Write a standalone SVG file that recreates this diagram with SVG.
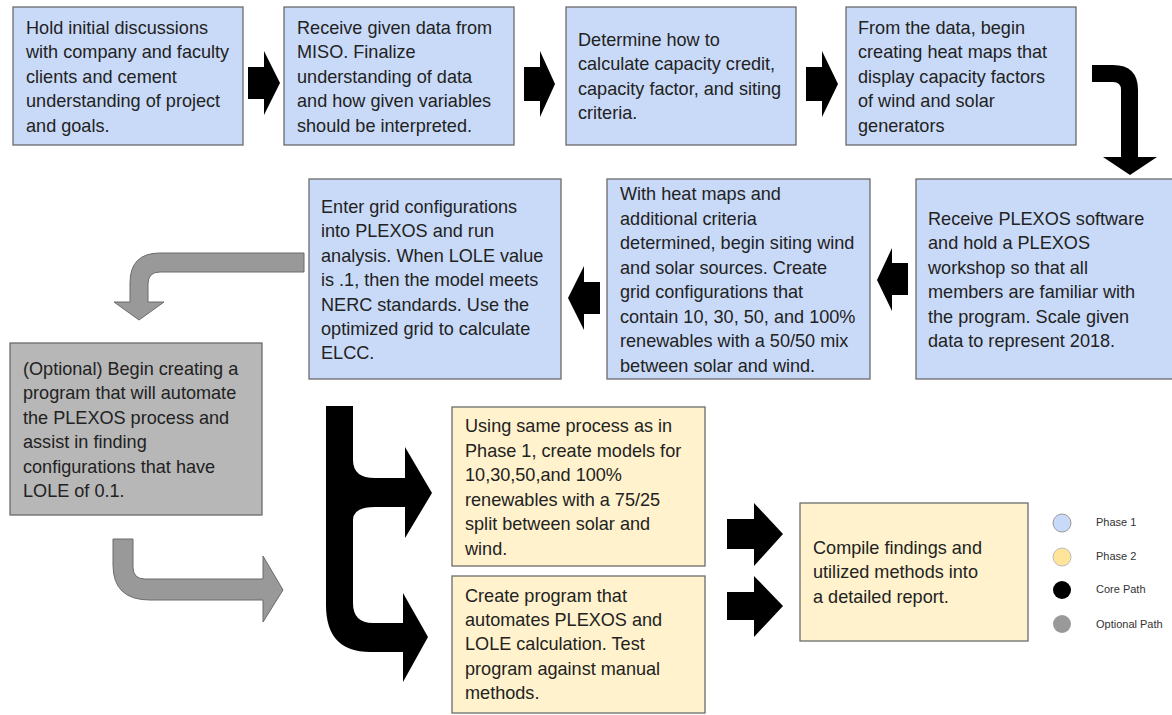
<svg xmlns="http://www.w3.org/2000/svg" width="1172" height="715" viewBox="0 0 1172 715">
<style>
.box{stroke:#6b6b6b;stroke-width:1.3}
.p1{fill:#c9daf8}
.p2{fill:#fff2cc}
.opt{fill:#b7b7b7}
.t{font-family:"Liberation Sans",Arial,sans-serif;font-size:18.1px;fill:#222}
.lg{font-family:"Liberation Sans",Arial,sans-serif;font-size:11px;fill:#333}
.core{fill:#000}
.gray{fill:#999;stroke:#6b6b6b;stroke-width:1}
</style>
<rect width="1172" height="715" fill="#fff"/>
<g id="connectors">
<polygon class="core" points="248,67 264,67 264,51 280,83 264,115 264,99 248,99"/>
<polygon class="core" points="524,67 540,67 540,51 555,84 540,117 540,101 524,101"/>
<polygon class="core" points="806,67 822,67 822,51 838,84 822,117 822,101 806,101"/>
<path class="core" d="M1092,65 L1113,65 Q1138,65 1138,90 L1138,157 L1157,157 L1130,175 L1103,157 L1121,157 L1121,90 Q1121,82 1113,82 L1092,82 Z"/>
<polygon class="core" points="908,263 892,263 892,248 877,280 892,311 892,295 908,295"/>
<polygon class="core" points="600,282 584,282 584,266 568,298 584,330 584,314 600,314"/>
<path class="gray" d="M304,253 L160,253 Q130,253 130,283 L130,302 L114,302 L139,320 L164,302 L148,302 L148,284 Q148,272 160,272 L304,272 Z"/>
<path class="gray" d="M113,539 L133,539 L133,567 Q133,579 145,579 L263,579 L263,556 L283,590 L263,622 L263,600 L150,600 Q113,600 113,565 Z"/>
<path class="core" d="M326,406 L353,406 L353,460 Q353,478 375,478 L405,478 L405,447 L432,493 L405,538 L405,507 L375,507 Q353,507 353,520 L353,603 Q353,623 373,623 L403,623 L403,593 L428,637 L403,682 L403,652 L370,652 Q326,652 326,605 Z"/>
<polygon class="core" points="727,519 754,519 754,503 783,534 754,566 754,549 727,549"/>
<polygon class="core" points="727,592 754,592 754,576 783,606 754,637 754,620 727,620"/>
</g>
<g id="n1">
<rect class="box p1" x="13" y="7" width="230" height="138"/>
<text class="t" x="26" y="34"><tspan x="26">Hold initial discussions</tspan><tspan x="26" dy="24.4">with company and faculty</tspan><tspan x="26" dy="24.4">clients and cement</tspan><tspan x="26" dy="24.4">understanding of project</tspan><tspan x="26" dy="24.4">and goals.</tspan></text>
</g>
<g id="n2">
<rect class="box p1" x="284" y="7" width="230" height="138"/>
<text class="t" x="297" y="34"><tspan x="297">Receive given data from</tspan><tspan x="297" dy="24.4">MISO. Finalize</tspan><tspan x="297" dy="24.4">understanding of data</tspan><tspan x="297" dy="24.4">and how given variables</tspan><tspan x="297" dy="24.4">should be interpreted.</tspan></text>
</g>
<g id="n3">
<rect class="box p1" x="566" y="7" width="230" height="138"/>
<text class="t" x="578" y="46"><tspan x="578">Determine how to</tspan><tspan x="578" dy="24.4">calculate capacity credit,</tspan><tspan x="578" dy="24.4">capacity factor, and siting</tspan><tspan x="578" dy="24.4">criteria.</tspan></text>
</g>
<g id="n4">
<rect class="box p1" x="846" y="7" width="230" height="138"/>
<text class="t" x="858" y="34"><tspan x="858">From the data, begin</tspan><tspan x="858" dy="24.4">creating heat maps that</tspan><tspan x="858" dy="24.4">display capacity factors</tspan><tspan x="858" dy="24.4">of wind and solar</tspan><tspan x="858" dy="24.4">generators</tspan></text>
</g>
<g id="n5">
<rect class="box p1" x="916" y="179" width="264" height="200"/>
<text class="t" x="928" y="225"><tspan x="928">Receive PLEXOS software</tspan><tspan x="928" dy="24.4">and hold a PLEXOS</tspan><tspan x="928" dy="24.4">workshop so that all</tspan><tspan x="928" dy="24.4">members are familiar with</tspan><tspan x="928" dy="24.4">the program. Scale given</tspan><tspan x="928" dy="24.4">data to represent 2018.</tspan></text>
</g>
<g id="n6">
<rect class="box p1" x="607" y="179" width="263" height="200"/>
<text class="t" x="620" y="200"><tspan x="620">With heat maps and</tspan><tspan x="620" dy="24.5">additional criteria</tspan><tspan x="620" dy="24.5">determined, begin siting wind</tspan><tspan x="620" dy="24.5">and solar sources. Create</tspan><tspan x="620" dy="24.5">grid configurations that</tspan><tspan x="620" dy="24.5">contain 10, 30, 50, and 100%</tspan><tspan x="620" dy="24.5">renewables with a 50/50 mix</tspan><tspan x="620" dy="24.5">between solar and wind.</tspan></text>
</g>
<g id="n7">
<rect class="box p1" x="309" y="179" width="252" height="200"/>
<text class="t" x="321" y="213"><tspan x="321">Enter grid configurations</tspan><tspan x="321" dy="24.4">into PLEXOS and run</tspan><tspan x="321" dy="24.4">analysis. When LOLE value</tspan><tspan x="321" dy="24.4">is .1, then the model meets</tspan><tspan x="321" dy="24.4">NERC standards. Use the</tspan><tspan x="321" dy="24.4">optimized grid to calculate</tspan><tspan x="321" dy="24.4">ELCC.</tspan></text>
</g>
<g id="n8">
<rect class="box opt" x="10" y="343" width="252" height="172"/>
<text class="t" x="23" y="375"><tspan x="23">(Optional) Begin creating a</tspan><tspan x="23" dy="24.4">program that will automate</tspan><tspan x="23" dy="24.4">the PLEXOS process and</tspan><tspan x="23" dy="24.4">assist in finding</tspan><tspan x="23" dy="24.4">configurations that have</tspan><tspan x="23" dy="24.4">LOLE of 0.1.</tspan></text>
</g>
<g id="n9">
<rect class="box p2" x="452" y="407" width="253" height="159"/>
<text class="t" x="465" y="432"><tspan x="465">Using same process as in</tspan><tspan x="465" dy="24.5">Phase 1, create models for</tspan><tspan x="465" dy="24.5">10,30,50,and 100%</tspan><tspan x="465" dy="24.5">renewables with a 75/25</tspan><tspan x="465" dy="24.5">split between solar and</tspan><tspan x="465" dy="24.5">wind.</tspan></text>
</g>
<g id="n10">
<rect class="box p2" x="452" y="576" width="253" height="137"/>
<text class="t" x="465" y="602"><tspan x="465">Create program that</tspan><tspan x="465" dy="24.2">automates PLEXOS and</tspan><tspan x="465" dy="24.2">LOLE calculation. Test</tspan><tspan x="465" dy="24.2">program against manual</tspan><tspan x="465" dy="24.2">methods.</tspan></text>
</g>
<g id="n11">
<rect class="box p2" x="800" y="503" width="228" height="138"/>
<text class="t" x="813" y="554"><tspan x="813">Compile findings and</tspan><tspan x="813" dy="24.4">utilized methods into</tspan><tspan x="813" dy="24.4">a detailed report.</tspan></text>
</g>
<g id="legend">
<circle cx="1062" cy="523" r="9" fill="#c9daf8" stroke="#999" stroke-width="1"/>
<circle cx="1062" cy="557" r="9" fill="#ffe599" stroke="#bbb" stroke-width="1"/>
<circle cx="1062" cy="590" r="9" fill="#000"/>
<circle cx="1062" cy="624" r="9" fill="#999"/>
<text class="lg" x="1096" y="526">Phase 1</text>
<text class="lg" x="1096" y="560">Phase 2</text>
<text class="lg" x="1096" y="593">Core Path</text>
<text class="lg" x="1096" y="628">Optional Path</text>
</g>
</svg>
